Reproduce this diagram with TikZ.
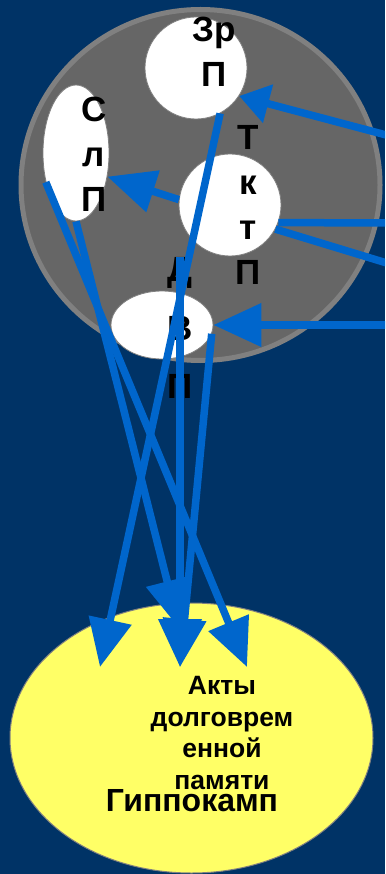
\documentclass[tikz,border=0pt]{standalone}
\usepackage{fontspec}
\setmainfont{Liberation Sans}
\usepackage{xcolor}
\usetikzlibrary{arrows.meta,shapes.geometric,positioning}
\definecolor{navy}{HTML}{003366}
\definecolor{linkblue}{HTML}{0066CC}
\definecolor{cortex}{HTML}{666666}
\definecolor{rim}{HTML}{808080}
\definecolor{hippo}{HTML}{FFFF66}

\begin{document}
\begin{tikzpicture}[x=1pt,y=-1pt,
  area/.style={draw=rim, line width=0.8pt, fill=white, inner sep=0pt},
  lbl/.style={align=center, inner sep=0pt, font=\bfseries\fontsize{35}{45}\selectfont},
  link/.style={draw=linkblue, line width=7.5pt, -{Triangle[length=48pt,width=42pt]}},
  wire/.style={draw=linkblue, line width=7.5pt}]
\useasboundingbox (0,0) rectangle (385,874);
\fill[navy] (0,0) rectangle (385,874);
\clip (0,0) rectangle (385,874);

% Cortex
\draw[rim, fill=cortex, line width=5pt] (200.5,185) ellipse [x radius=179.5, y radius=175.5];

% Areas inside the cortex
\node[area, circle, minimum size=102pt] (zrp) at (196,68) {};
\node[area, ellipse, minimum width=66pt, minimum height=136pt] (slp) at (76,153) {};
\node[area, circle, minimum size=102pt] (tkt) at (230,205) {};
\node[area, ellipse, minimum width=102pt, minimum height=68pt] (dvp) at (162,325) {};

% Hippocampus
\node[draw=rim, line width=1pt, fill=hippo, ellipse, minimum width=363pt, minimum height=270pt, inner sep=0pt] (hip) at (191.5,738) {};

% Labels
\node[lbl] (zrptxt) at (214,51.75) {Зр\\П};
\node[lbl] (slptxt) at (94,154) {С\\л\\П};
\node[lbl] (tkttxt) at (248,205) {Т\\к\\т\\П};
\node[lbl, font=\bfseries\fontsize{35}{58.5}\selectfont] (dvptxt) at (180,328) {Д\\В\\П};
\node[lbl, font=\bfseries\fontsize{26.5}{31.5}\selectfont] (acts) at (222,733) {Акты\\долговрем\\енной\\памяти};
\node[lbl, font=\bfseries\fontsize{32}{38}\selectfont, anchor=base] (hiptxt) at (192,811) {Гиппокамп};

% Free ends
\coordinate (in1) at (390,136);
\coordinate (in2) at (390,325);
\coordinate (out1) at (390,223);
\coordinate (out2) at (390,264);
\coordinate (t1) at (100,667);
\coordinate (t2) at (180,667);
\coordinate (t3) at (247,667);
\coordinate (t4) at (179,628);

% Arrows
\draw[link, -{Triangle[length=30pt,width=38pt]}] (in1) -- (zrp.-33);
\draw[link] (tkt.174) -- (slp.-37);
\draw[wire] (tkt.-20) -- (out1);
\draw[wire] (tkt.-28) -- (out2);
\draw[link] (in2) -- (dvp);

% Arrows into the hippocampus
\draw[link] (zrp.-62) -- (t1);
\draw[link] (slp.224) -- (t3);
\draw[link] (slp.south) -- (t4);
\draw[link] (dvptxt.north) -- (t2);
\draw[link] (dvp.-10) -- (t2);
\end{tikzpicture}
\end{document}
